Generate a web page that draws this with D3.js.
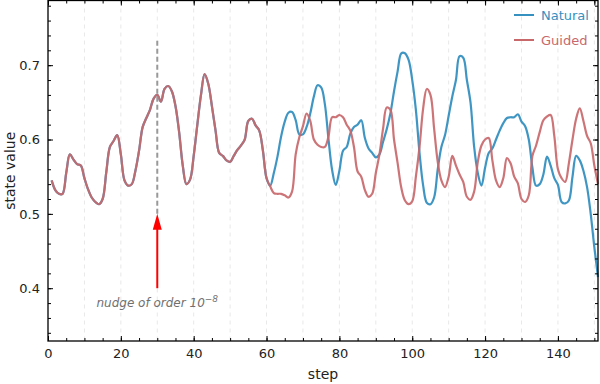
<!DOCTYPE html>
<html><head><meta charset="utf-8">
<script src="https://cdn.jsdelivr.net/npm/d3@7"></script>
<style>body{margin:0;background:#fff}svg{display:block;font-family:"DejaVu Sans",sans-serif}</style>
</head><body><svg id="c" width="600" height="384"></svg>
<script>
const steps = d3.range(1, 152);
const shared = [0.545,0.532,0.527,0.527,0.555,0.580,0.573,0.567,0.565,0.548,
0.533,0.522,0.516,0.513,0.520,0.556,0.590,0.598,0.606,0.580,
0.545,0.538,0.540,0.558,0.585,0.617,0.629,0.640,0.655,0.660,
0.651,0.668,0.672,0.665,0.645,0.610,0.565,0.540,0.546,0.578,
0.620,0.660,0.688,0.675,0.645,0.612,0.582,0.578,0.572,0.570,
0.578,0.586,0.592,0.600,0.625,0.628,0.619,0.612,0.585,0.548];
const naturalTail = [0.538,0.555,0.577,0.604,0.624,0.636,0.637,0.626,0.607,0.607,
0.617,0.635,0.658,0.673,0.670,0.648,0.601,0.559,0.539,0.558,
0.585,0.590,0.608,0.617,0.620,0.626,0.602,0.588,0.582,0.576,
0.580,0.597,0.614,0.635,0.665,0.692,0.716,0.716,0.707,0.680,
0.640,0.582,0.538,0.515,0.513,0.522,0.560,0.590,0.606,0.632,
0.658,0.680,0.712,0.710,0.680,0.650,0.590,0.555,0.538,0.562,
0.582,0.588,0.600,0.612,0.622,0.629,0.630,0.630,0.634,0.624,
0.618,0.600,0.562,0.538,0.540,0.553,0.577,0.565,0.548,0.539,
0.516,0.514,0.518,0.550,0.578,0.572,0.558,0.536,0.500,0.455,0.415];
const guidedTail = [0.537,0.528,0.527,0.527,0.525,0.522,0.530,0.580,0.603,0.618,
0.635,0.625,0.600,0.593,0.590,0.590,0.604,0.630,0.630,0.633,
0.630,0.620,0.612,0.590,0.557,0.550,0.532,0.523,0.527,0.555,
0.580,0.615,0.643,0.640,0.600,0.568,0.535,0.518,0.513,0.517,
0.550,0.590,0.642,0.668,0.660,0.615,0.570,0.545,0.536,0.550,
0.578,0.565,0.553,0.543,0.523,0.519,0.530,0.570,0.592,0.600,
0.602,0.572,0.545,0.536,0.548,0.575,0.568,0.550,0.541,0.520,
0.516,0.525,0.578,0.592,0.610,0.626,0.631,0.633,0.605,0.560,
0.548,0.543,0.568,0.600,0.628,0.642,0.625,0.605,0.595,0.565,0.540];
const natural = shared.concat(naturalTail);
const guided = shared.concat(guidedTail);
const seriesNames = ["Natural", "Guided"];
const seriesColors = ["#3690c0", "#c8686b"];
const xTicks = [0,20,40,60,80,100,120,140];
const yTicks = [0.4,0.5,0.6,0.7];
const nudgeStep = 30;

const svg = d3.select("#c");
const L=48, R=598, T=0.5, B=341;
const x = d3.scaleLinear().domain([0,151]).range([L,R]);
const y = d3.scaleLinear().domain([0.329,0.787]).range([B,T]);

// grid
svg.append("g").selectAll("line").data(d3.range(10,151,10)).join("line")
  .attr("x1",d=>x(d)).attr("x2",d=>x(d)).attr("y1",T).attr("y2",B)
  .attr("stroke","#e8e8e8").attr("stroke-width",1).attr("stroke-dasharray","4,4");

// lines
const line = d3.line().x((d,i)=>x(steps[i])).y(d=>y(d)).curve(d3.curveCatmullRom);
svg.append("path").datum(natural).attr("d",line).attr("fill","none")
  .attr("stroke",seriesColors[0]).attr("stroke-width",2.2).attr("opacity",0.95);
svg.append("path").datum(guided).attr("d",line).attr("fill","none")
  .attr("stroke",seriesColors[1]).attr("stroke-width",2.2).attr("opacity",0.92);

// nudge marker
svg.append("line").attr("x1",x(nudgeStep)).attr("x2",x(nudgeStep))
  .attr("y1",y(0.5)).attr("y2",y(0.736))
  .attr("stroke","#999").attr("stroke-width",2).attr("stroke-dasharray","5,3");
svg.append("line").attr("x1",x(nudgeStep)).attr("x2",x(nudgeStep))
  .attr("y1",y(0.4)).attr("y2",y(0.5)+12)
  .attr("stroke","red").attr("stroke-width",2);
const ax=x(nudgeStep), ay=y(0.5);
svg.append("path").attr("d",`M${ax},${ay} L${ax-4.5},${ay+16} L${ax+4.5},${ay+16} Z`).attr("fill","red");
const ann = svg.append("text").attr("x",ax).attr("y",307).attr("text-anchor","middle")
  .attr("font-size",12).attr("font-style","italic").attr("fill","#707070");
ann.append("tspan").text("nudge of order 10");
ann.append("tspan").attr("dy",-5).attr("font-size",9).text("−8");

// axes frame
const gx = svg.append("g").attr("transform",`translate(0,${B})`);
gx.call(d3.axisBottom(x).tickValues(xTicks).tickFormat(d3.format("d")).tickSizeInner(-5).tickSizeOuter(0).tickPadding(8));
const gxm = svg.append("g").attr("transform",`translate(0,${B})`);
gxm.call(d3.axisBottom(x).tickValues(d3.range(0,151,5)).tickFormat("").tickSizeInner(-3).tickSizeOuter(0));
const gxt = svg.append("g").attr("transform",`translate(0,${T})`);
gxt.call(d3.axisTop(x).tickValues(xTicks.concat([150])).tickFormat("").tickSizeInner(-5).tickSizeOuter(0));
const gxtm = svg.append("g").attr("transform",`translate(0,${T})`);
gxtm.call(d3.axisTop(x).tickValues(d3.range(0,151,5)).tickFormat("").tickSizeInner(-3).tickSizeOuter(0));
const gy = svg.append("g").attr("transform",`translate(${L},0)`);
gy.call(d3.axisLeft(y).tickValues(yTicks).tickFormat(d3.format(".1f")).tickSizeInner(-5).tickSizeOuter(0).tickPadding(8));
const gym = svg.append("g").attr("transform",`translate(${L},0)`);
gym.call(d3.axisLeft(y).tickValues(d3.range(0.34,0.79,0.02)).tickFormat("").tickSizeInner(-3).tickSizeOuter(0));
const gyr = svg.append("g").attr("transform",`translate(${R},0)`);
gyr.call(d3.axisRight(y).tickValues(yTicks).tickFormat("").tickSizeInner(-5).tickSizeOuter(0));
const gyrm = svg.append("g").attr("transform",`translate(${R},0)`);
gyrm.call(d3.axisRight(y).tickValues(d3.range(0.34,0.79,0.02)).tickFormat("").tickSizeInner(-3).tickSizeOuter(0));
svg.selectAll(".domain").remove();
svg.selectAll(".tick line").attr("stroke","#000");
svg.selectAll(".tick text").attr("font-size",13).attr("fill","#222").attr("font-family","DejaVu Sans");
svg.append("rect").attr("x",L).attr("y",T).attr("width",R-L).attr("height",B-T)
  .attr("fill","none").attr("stroke","#000").attr("stroke-width",1.3);

// labels
svg.append("text").attr("x",(L+R)/2).attr("y",379).attr("text-anchor","middle")
  .attr("font-size",14).attr("fill","#222").text("step");
svg.append("text").attr("transform",`translate(15,${(T+B)/2}) rotate(-90)`).attr("text-anchor","middle")
  .attr("font-size",14).attr("fill","#222").text("state value");

// legend
const leg = svg.append("g");
seriesNames.forEach((n,i)=>{
  const ly = 15 + i*25;
  leg.append("line").attr("x1",514).attr("x2",534).attr("y1",ly).attr("y2",ly)
    .attr("stroke",seriesColors[i]).attr("stroke-width",2);
  leg.append("text").attr("x",541).attr("y",ly+5).attr("font-size",13)
    .attr("fill",seriesColors[i]).text(n);
});
</script></body></html>
